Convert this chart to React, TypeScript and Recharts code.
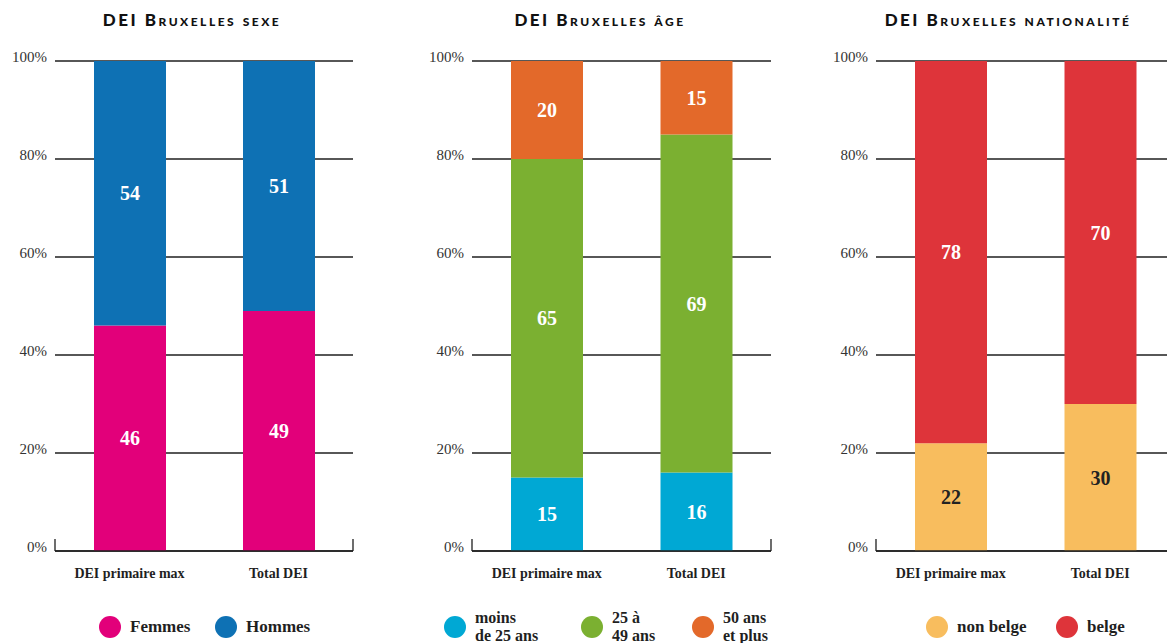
import React from "react";
import { BarChart, Bar, XAxis, YAxis, CartesianGrid, LabelList } from "recharts";

const categories = ["DEI primaire max", "Total DEI"];
const yTicks = [0, 20, 40, 60, 80, 100];

// sexe
const femmes = [46, 49];
const hommes = [54, 51];
// âge
const moins25 = [15, 16];
const de25a49 = [65, 69];
const plus50 = [20, 15];
// nationalité
const nonBelge = [22, 30];
const belge = [78, 70];

const SERIF = "'Liberation Serif', 'DejaVu Serif', serif";
const INK = "#1f1f1f";

type Series = {
  key: string;
  legend: string[];
  values: number[];
  color: string;
  labelColor: string;
  legendX: number; // circle centre, page coords
};

type PanelProps = {
  title: string;
  titleCenter: number;
  left: number;
  width: number;
  plotLeft: number;
  plotRight: number;
  series: Series[];
};

const panels: PanelProps[] = [
  {
    title: "DEI Bruxelles sexe",
    titleCenter: 192,
    left: 0,
    width: 360,
    plotLeft: 55,
    plotRight: 353,
    series: [
      { key: "femmes", legend: ["Femmes"], values: femmes, color: "#e2007a", labelColor: "#fff", legendX: 110 },
      { key: "hommes", legend: ["Hommes"], values: hommes, color: "#0e71b4", labelColor: "#fff", legendX: 226 },
    ],
  },
  {
    title: "DEI Bruxelles âge",
    titleCenter: 600,
    left: 400,
    width: 380,
    plotLeft: 72,
    plotRight: 371,
    series: [
      { key: "moins25", legend: ["moins", "de 25 ans"], values: moins25, color: "#00a8d4", labelColor: "#fff", legendX: 455 },
      { key: "de25a49", legend: ["25 à", "49 ans"], values: de25a49, color: "#7bb031", labelColor: "#fff", legendX: 592 },
      { key: "plus50", legend: ["50 ans", "et plus"], values: plus50, color: "#e3692a", labelColor: "#fff", legendX: 703 },
    ],
  },
  {
    title: "DEI Bruxelles nationalité",
    titleCenter: 1008,
    left: 800,
    width: 380,
    plotLeft: 76,
    plotRight: 375,
    series: [
      { key: "nonBelge", legend: ["non belge"], values: nonBelge, color: "#f8bd5e", labelColor: "#222", legendX: 937 },
      { key: "belge", legend: ["belge"], values: belge, color: "#de343a", labelColor: "#fff", legendX: 1067 },
    ],
  },
];

function YTick({ x, y, payload }: any) {
  return (
    <text x={x - 8} y={y + 1} textAnchor="end" fontFamily={SERIF} fontSize={15} fill="#333">
      {payload.value}%
    </text>
  );
}

function XTick({ x, y, payload }: any) {
  return (
    <text x={x} y={y + 27} textAnchor="middle" fontFamily={SERIF} fontSize={14} fontWeight={700} fill={INK}>
      {payload.value}
    </text>
  );
}

const NoLabel = () => <g />;

function Panel({ title, titleCenter, left, width, plotLeft, plotRight, series }: PanelProps) {
  const data = categories.map((name, i) => {
    const row: Record<string, string | number> = { name };
    series.forEach((s) => (row[s.key] = s.values[i]));
    return row;
  });

  return (
    <>
      <div
        style={{
          position: "absolute",
          left: titleCenter - 200,
          top: 9,
          width: 400,
          textAlign: "center",
          fontFamily: "Lato, 'DejaVu Sans', sans-serif",
          fontWeight: 900,
          fontVariant: "small-caps",
          fontSize: 17,
          letterSpacing: 2.5,
          color: "#111",
        }}
      >
        {title}
      </div>

      <div style={{ position: "absolute", left, top: 0 }}>
        <BarChart
          width={width}
          height={643}
          data={data}
          margin={{ top: 61, right: width - plotRight, bottom: 63, left: plotLeft - 50 }}
        >
          <CartesianGrid xAxisId="cat" vertical={false} stroke={INK} strokeWidth={1.3} />
          {/* base line + ticks between the two bars (height 0 would skip rendering) */}
          <XAxis
            xAxisId="frame"
            type="number"
            domain={[0, 2]}
            allowDataOverflow
            ticks={[0, 1, 2]}
            interval={0}
            height={1}
            mirror
            tick={<NoLabel />}
            tickSize={12}
            axisLine={{ stroke: INK, strokeWidth: 1.5 }}
            tickLine={{ stroke: INK, strokeWidth: 1.3 }}
          />
          <XAxis
            xAxisId="cat"
            dataKey="name"
            height={29}
            axisLine={false}
            tickLine={false}
            tickSize={0}
            tickMargin={0}
            tick={<XTick />}
          />
          <YAxis
            width={50}
            domain={[0, 100]}
            ticks={yTicks}
            axisLine={false}
            tickLine={false}
            tickSize={0}
            tickMargin={0}
            tick={<YTick />}
          />
          {series.map((s) => (
            <Bar
              key={s.key}
              xAxisId="cat"
              dataKey={s.key}
              stackId="a"
              fill={s.color}
              barSize={72}
              isAnimationActive={false}
            >
              <LabelList
                dataKey={s.key}
                position="center"
                fill={s.labelColor}
                fontFamily={SERIF}
                fontSize={20}
                fontWeight={700}
              />
            </Bar>
          ))}
        </BarChart>
      </div>

      {series.map((s) => (
        <div
          key={s.key}
          style={{
            position: "absolute",
            left: s.legendX - 11,
            top: 627 - 18,
            height: 36,
            display: "flex",
            alignItems: "center",
          }}
        >
          <div style={{ width: 22, height: 22, borderRadius: 11, background: s.color, flex: "none" }} />
          <div
            style={{
              marginLeft: 9,
              fontFamily: SERIF,
              fontWeight: 700,
              fontSize: s.legend.length > 1 ? 16 : 17,
              lineHeight: "18px",
              color: INK,
              whiteSpace: "nowrap",
            }}
          >
            {s.legend.map((l) => (
              <div key={l}>{l}</div>
            ))}
          </div>
        </div>
      ))}
    </>
  );
}

export default function App() {
  return (
    <div
      style={{
        position: "fixed",
        left: 0,
        top: 0,
        width: 1167,
        height: 643,
        overflow: "hidden",
        background: "#fff",
      }}
    >
      {panels.map((p) => (
        <Panel key={p.title} {...p} />
      ))}
    </div>
  );
}
